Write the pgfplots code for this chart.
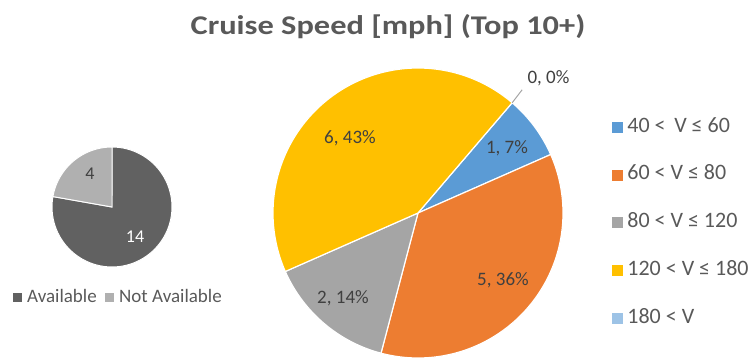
\documentclass[border=0pt]{standalone}
\usepackage{pgfplots}
\pgfplotsset{compat=1.18}
\usepackage{pgfplotstable}
\usepackage{fontspec}
\setmainfont{Carlito}
\newfontfamily\titlefont[FakeStretch=1.2]{Carlito}
\definecolor{cBlue}{HTML}{5B9BD5}
\definecolor{cOrange}{HTML}{ED7D31}
\definecolor{cGray}{HTML}{A5A5A5}
\definecolor{cYellow}{HTML}{FFC000}
\definecolor{cLightBlue}{HTML}{9DC3E6}
\definecolor{cDark}{HTML}{616161}
\definecolor{cLight}{HTML}{B0B0B0}
\definecolor{txt}{HTML}{595959}
\definecolor{lbl}{HTML}{404040}

% Cruise speed classes: count
\pgfplotstableread{
class count
1 1
2 5
3 2
4 6
5 0
}\speed
% availability
\pgfplotstableread{
status count
Available 14
NotAvailable 4
}\avail

\newcommand\getv[3]{\pgfplotstablegetelem{#1}{count}\of#2\pgfmathsetmacro#3{\pgfplotsretval}}

\begin{document}
\begin{tikzpicture}[font=\fontsize{19bp}{23bp}\selectfont]
\getv{0}{\speed}{\vA}\getv{1}{\speed}{\vB}\getv{2}{\speed}{\vC}\getv{3}{\speed}{\vD}\getv{4}{\speed}{\vE}
\getv{0}{\avail}{\wA}\getv{1}{\avail}{\wB}
\pgfmathsetmacro\tot{\vA+\vB+\vC+\vD+\vE}
\pgfmathsetmacro\aO{49.5}
\pgfmathsetmacro\aA{\aO-360*\vA/\tot}
\pgfmathsetmacro\aB{\aA-360*\vB/\tot}
\pgfmathsetmacro\aC{\aB-360*\vC/\tot}
\pgfmathsetmacro\aD{\aC-360*\vD/\tot}
\pgfmathsetmacro\wtot{\wA+\wB}
\pgfmathsetmacro\bO{90}
\pgfmathsetmacro\bA{\bO-360*\wA/\wtot}
\pgfmathsetmacro\bB{\bA-360*\wB/\wtot}
\def\cx{418}\def\cy{147}\def\R{145}
\def\sx{112}\def\sy{153}\def\sr{60}
\useasboundingbox (0,0) rectangle (748bp,360bp);
\pgfplotsset{base/.style={
  at={(0,0)}, anchor=south west,
  scale only axis, x=1bp, y=1bp,
  xmin=0, xmax=748, ymin=0, ymax=360,
  hide axis, clip=false,
  legend cell align=left,
  legend style={draw=none, fill=none, text=txt, inner sep=0pt, outer sep=0pt,
    nodes={inner sep=0pt, text height=13bp, text depth=3bp}},
}}
% ---------------- small pie ----------------
\begin{axis}[base,
  legend columns=-1,
  legend style={at={(12.7/748,63/360)}, anchor=west,
    font=\fontsize{19bp}{23bp}\selectfont,
    /tikz/every odd column/.append style={column sep=6bp},
    /tikz/every even column/.append style={column sep=8bp}},
]
\addplot[forget plot, fill=cDark, draw=white, line width=1pt, domain=\bA:\bO, samples=80, variable=\t]
  ({\sx+\sr*cos(\t)},{\sy+\sr*sin(\t)}) -- (axis cs:\sx,\sy) -- cycle;
\addplot[forget plot, fill=cLight, draw=white, line width=1pt, domain=\bB:\bA, samples=40, variable=\t]
  ({\sx+\sr*cos(\t)},{\sy+\sr*sin(\t)}) -- (axis cs:\sx,\sy) -- cycle;
\node[text=lbl, font=\fontsize{18bp}{20bp}\selectfont] at (axis cs:90,186) {4};
\node[text=white, font=\fontsize{18bp}{20bp}\selectfont] at (axis cs:135,123) {14};
\addlegendimage{legend image code/.code={\fill[cDark] (0,-4.5bp) rectangle (8bp,3.5bp);}}
\addlegendentry{Available}
\addlegendimage{legend image code/.code={\fill[cLight] (0,-4.5bp) rectangle (8bp,3.5bp);}}
\addlegendentry{Not Available}
\end{axis}
% ---------------- big pie ----------------
\begin{axis}[base,
  legend style={at={(612/748,241/360)}, anchor=north west,
    font=\fontsize{22bp}{26bp}\selectfont,
    row sep=31.75bp,
    /tikz/every odd column/.append style={column sep=5bp}},
]
\addplot[forget plot, fill=cBlue, draw=white, line width=1.2pt, domain=\aA:\aO, samples=30, variable=\t]
  ({\cx+\R*cos(\t)},{\cy+\R*sin(\t)}) -- (axis cs:\cx,\cy) -- cycle;
\addplot[forget plot, fill=cOrange, draw=white, line width=1.2pt, domain=\aB:\aA, samples=100, variable=\t]
  ({\cx+\R*cos(\t)},{\cy+\R*sin(\t)}) -- (axis cs:\cx,\cy) -- cycle;
\addplot[forget plot, fill=cGray, draw=white, line width=1.2pt, domain=\aC:\aB, samples=50, variable=\t]
  ({\cx+\R*cos(\t)},{\cy+\R*sin(\t)}) -- (axis cs:\cx,\cy) -- cycle;
\addplot[forget plot, fill=cYellow, draw=white, line width=1.2pt, domain=\aD:\aC, samples=120, variable=\t]
  ({\cx+\R*cos(\t)},{\cy+\R*sin(\t)}) -- (axis cs:\cx,\cy) -- cycle;
% leader line for the empty slice
\draw[cGray, line width=1pt] (axis cs:{\cx+\R*cos(\aO)},{\cy+\R*sin(\aO)}) -- (axis cs:{\cx+\R*cos(\aO)+10},{\cy+\R*sin(\aO)+13});
\node[text=lbl, anchor=west] at (axis cs:524,282) {0, 0\%};
\node[text=lbl] at (axis cs:507,212) {1, 7\%};
\node[text=lbl] at (axis cs:503,80) {5, 36\%};
\node[text=lbl] at (axis cs:343,62) {2, 14\%};
\node[text=lbl] at (axis cs:350,222) {6, 43\%};
\node[text=txt, font=\fontsize{27bp}{32bp}\titlefont\bfseries] at (axis cs:388,333) {Cruise Speed [mph] (Top 10+)};
\addlegendimage{legend image code/.code={\fill[cBlue] (0,-5bp) rectangle (10bp,5bp);}}
\addlegendentry{40 <\, V ≤ 60}
\addlegendimage{legend image code/.code={\fill[cOrange] (0,-5bp) rectangle (10bp,5bp);}}
\addlegendentry{60 < V ≤ 80}
\addlegendimage{legend image code/.code={\fill[cGray] (0,-5bp) rectangle (10bp,5bp);}}
\addlegendentry{80 < V ≤ 120}
\addlegendimage{legend image code/.code={\fill[cYellow] (0,-5bp) rectangle (10bp,5bp);}}
\addlegendentry{120 < V ≤ 180}
\addlegendimage{legend image code/.code={\fill[cLightBlue] (0,-5bp) rectangle (10bp,5bp);}}
\addlegendentry{180 < V}
\end{axis}
\end{tikzpicture}
\end{document}
